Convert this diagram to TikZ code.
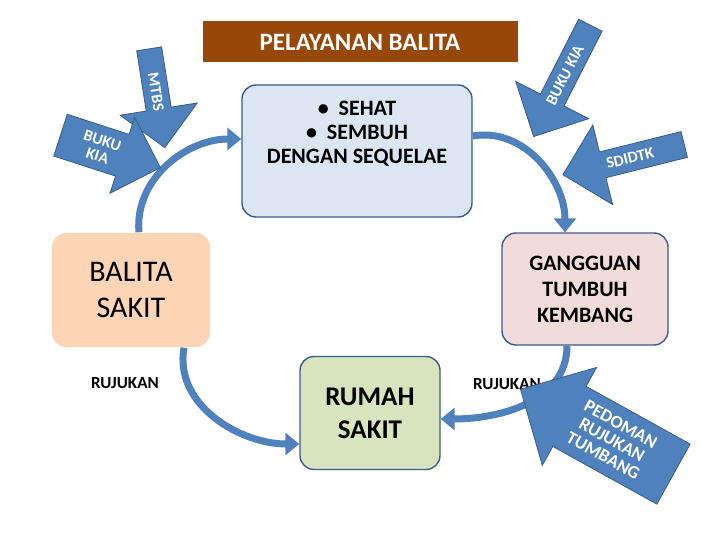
\documentclass[tikz,border=0pt]{standalone}
\usepackage{fontspec}
\setmainfont{Carlito}
\usetikzlibrary{positioning,shapes.arrows,arrows.meta}
\definecolor{brownbar}{HTML}{974806}
\definecolor{blockblue}{HTML}{4F81BD}
\definecolor{edgeblue}{HTML}{385D8A}
\definecolor{stateblue}{HTML}{DCE6F2}
\definecolor{ggpink}{HTML}{F2DCDB}
\definecolor{rsgreen}{HTML}{D7E4BD}
\definecolor{balpeach}{HTML}{FBD5B5}
\newcommand\fs[1]{\fontsize{#1}{#1}\selectfont}

\begin{document}
\begin{tikzpicture}[x=1pt,y=-1pt,
  box/.style={rectangle,rounded corners=14pt,draw=edgeblue,line width=1.4pt,align=center,inner sep=2pt},
  bigarrow/.style={single arrow,fill=blockblue,draw=edgeblue,line width=0.8pt,text=white,font=\fs{16}\bfseries,align=center,inner sep=1pt},
  cycle/.style={line width=7pt,blockblue,-{Triangle[length=14pt,width=22pt]}},
  label/.style={font=\fs{17}\bfseries}
  ]
  \useasboundingbox (0,0) rectangle (720,540);

  \node[fill=brownbar,minimum width=315pt,minimum height=41pt,text=white,font=\fs{25}\bfseries] (title) at (360,42) {PELAYANAN BALITA};

  \node[box,fill=stateblue,minimum width=230pt,minimum height=132pt,font=\fs{22}\bfseries] (state) at (357,151) {\textbullet\ \ SEHAT\\[2pt] \textbullet\ \ SEMBUH\\[2pt] DENGAN SEQUELAE\\[16pt]};
  \node[box,draw=none,fill=balpeach,minimum width=158pt,minimum height=114pt,font=\fs{30}] (balita) at (131,290) {BALITA\\[6pt]SAKIT};
  \node[box,fill=ggpink,minimum width=166pt,minimum height=112pt,font=\fs{22}\bfseries] (gangguan) at (585,289) {GANGGUAN\\[4pt]TUMBUH\\[4pt]KEMBANG};
  \node[box,fill=rsgreen,minimum width=140pt,minimum height=113pt,font=\fs{27}\bfseries] (rs) at (370,413) {RUMAH\\[6pt]SAKIT};

  \draw[cycle] ([xshift=8pt]balita.north) to[out=95,in=180] ([yshift=12pt]state.west);
  \draw[cycle] ([yshift=15pt]state.east) to[out=10,in=90] ([xshift=-20pt]gangguan.north);
  \draw[cycle] ([xshift=-18pt]gangguan.south) to[out=-90,in=0] ([yshift=-6pt]rs.east);
  \draw[cycle] ([xshift=53pt]balita.south) to[out=-100,in=180] ([yshift=-31pt]rs.west);

  \node[label] (rujukanL) at (125,383) {RUJUKAN};
  \node[label] (rujukanR) at (507,384) {RUJUKAN};

  % block arrows pointing into the cycle
  \node[bigarrow,rotate=-81,minimum height=100pt,minimum width=78pt,single arrow head extend=14pt] (mtbs) at (156,92) {MTBS};
  \node[bigarrow,rotate=-18,minimum height=105pt,minimum width=80pt,single arrow head extend=12pt] (kiaL) at (100,148) {BUKU\\KIA};
  \node[bigarrow,rotate=63,shape border rotate=180,minimum height=125pt,minimum width=82pt,single arrow head extend=14pt] (kiaR) at (565,75) {BUKU KIA};
  \node[bigarrow,rotate=14,shape border rotate=180,minimum height=125pt,minimum width=82pt,single arrow head extend=14pt] (sdidtk) at (630,158) {SDIDTK};
  \node[bigarrow,rotate=-29,shape border rotate=180,minimum height=175pt,minimum width=112pt,single arrow head extend=16pt,font=\fs{18}\bfseries] (pedoman) at (612,440) {PEDOMAN\\RUJUKAN\\TUMBANG};
\end{tikzpicture}
\end{document}
